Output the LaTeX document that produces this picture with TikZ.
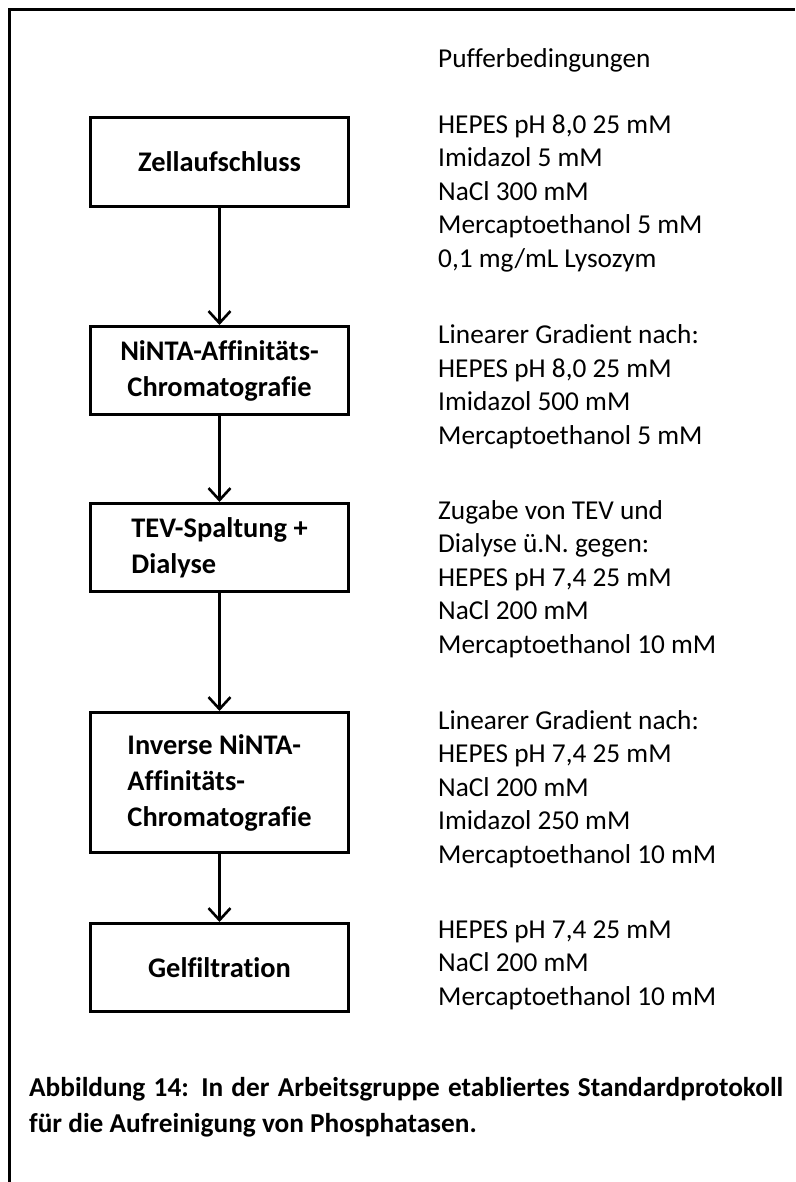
\documentclass[tikz,border=0pt]{standalone}
\usepackage{fontspec}
\setmainfont{Carlito}[Ligatures=CommonOff]
\usetikzlibrary{arrows.meta}
\begin{document}
\begin{tikzpicture}[x=1pt,y=-1pt,
  stepbox/.style={draw, line width=3pt, minimum width=258pt, inner sep=0pt,
    font=\bfseries\fontsize{28.4}{36}\selectfont},
  buffer/.style={anchor=base west, align=left, inner sep=0pt,
    font=\fontsize{27.3}{33.4}\selectfont},
  flow/.style={line width=2.6pt, -{Straight Barb[length=12pt,width=22pt,line width=2.6pt]}},
  frame/.style={line width=3pt}]
\useasboundingbox (0,0) rectangle (795,1182);
% frame (top and left only)
\coordinate (fa) at (9,1182);
\coordinate (fb) at (9,10);
\coordinate (fc) at (795,10);
\draw[frame] (fa) -- (fb) -- (fc);
% boxes
\node[stepbox, minimum height=89pt, align=center] (b1) at (219.5,162) {Zellaufschluss};
\node[stepbox, minimum height=88pt, align=center] (b2) at (219.5,370.5) {NiNTA-Affinitäts-\\Chromatografie};
\node[stepbox, minimum height=88pt, align=left] (b3) at (219.5,547.5) {TEV-Spaltung +\\Dialyse};
\node[stepbox, minimum height=140pt, align=left] (b4) at (219.5,782.5) {Inverse NiNTA-\\Affinitäts-\\Chromatografie};
\node[stepbox, minimum height=88pt, align=center] (b5) at (219.5,967.5) {Gelfiltration};
% arrows
\draw[flow] (b1) -- (b2);
\draw[flow] (b2) -- (b3);
\draw[flow] (b3) -- (b4);
\draw[flow] (b4) -- (b5);
% buffer conditions (anchor = baseline of last line)
\node[buffer] (t0) at (438,68) {Pufferbedingungen};
\node[buffer] (t1) at (438,267) {HEPES pH 8,0 25 mM\\Imidazol 5 mM\\NaCl 300 mM\\Mercaptoethanol 5 mM\\0,1 mg/mL Lysozym};
\node[buffer] (t2) at (438,444) {Linearer Gradient nach:\\HEPES pH 8,0 25 mM\\Imidazol 500 mM\\Mercaptoethanol 5 mM};
\node[buffer] (t3) at (438,653) {Zugabe von TEV und\\Dialyse ü.N. gegen:\\HEPES pH 7,4 25 mM\\NaCl 200 mM\\Mercaptoethanol 10 mM};
\node[buffer] (t4) at (438,863) {Linearer Gradient nach:\\HEPES pH 7,4 25 mM\\NaCl 200 mM\\Imidazol 250 mM\\Mercaptoethanol 10 mM};
\node[buffer] (t5) at (438,1005) {HEPES pH 7,4 25 mM\\NaCl 200 mM\\Mercaptoethanol 10 mM};
% caption (anchor = baseline of first line)
\node[anchor=base west, inner sep=0pt, text width=754pt, align=justify,
  font=\bfseries\fontsize{27.3}{36}\selectfont] (cap) at (29,1096)
  {\hyphenpenalty=10000 Abbildung 14: In der Arbeitsgruppe etabliertes Standardprotokoll\linebreak für die Aufreinigung von Phosphatasen.};
\end{tikzpicture}
\end{document}
